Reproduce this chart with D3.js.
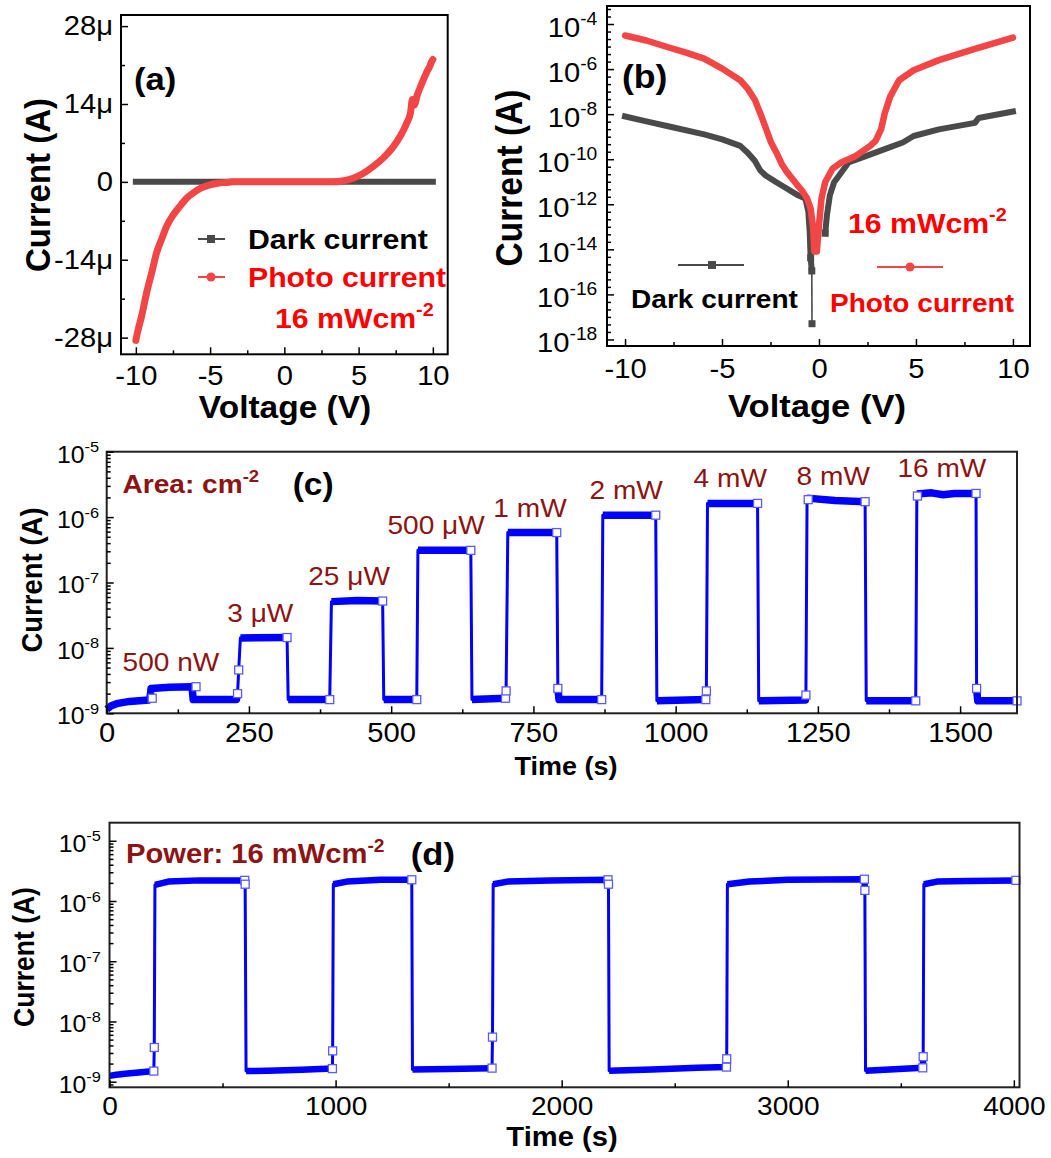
<!DOCTYPE html>
<html>
<head>
<meta charset="utf-8">
<script src="https://cdn.jsdelivr.net/npm/d3@7"></script>
<style>
  html, body { margin: 0; padding: 0; background: #fff; }
  svg { display: block; }
</style>
</head>
<body>
<svg id="fig" width="1051" height="1158"></svg>
<script>
// ---------------- (a) I–V, linear current axis (values in μA) ----------------
const voltageA = [-10, -9.9, -9.6, -9.28, -8.9, -8.61, -8.25, -7.93, -7.5, -7.04, -6.6, -6.14, -5.6, -5.02, -4.5, -3.9, -3.45, -2, 0, 2, 3.29, 3.9, 4.63, 5.3, 5.98, 6.7, 7.33, 7.8, 8.23, 8.5, 8.62, 8.75, 8.95, 9.15, 9.35, 9.6, 9.8, 9.91, 10];
const photoCurrentA = [-28.5, -27.2, -24, -20, -16, -12.8, -10.2, -8.0, -6.0, -4.4, -3.0, -2.0, -1.1, -0.54, -0.25, -0.1, 0, 0, 0, 0, 0, 0.15, 0.66, 1.5, 2.75, 4.4, 6.3, 8.2, 10.5, 12.5, 14.8, 13.8, 15.6, 17.0, 18.3, 19.8, 20.8, 21.6, 22.0];
const darkVoltageA = [-10, -5, 0, 5, 10];
const darkCurrentA = [0, 0, 0, 0, 0];
const xTicksA = [-10, -5, 0, 5, 10];
const yTicksA = [-28, -14, 0, 14, 28];
const yTickLabelsA = ["-28μ", "-14μ", "0", "14μ", "28μ"];

// ---------------- (b) I–V, log current axis (A) ----------------
const photoVoltageB = [-10, -8.9, -7.78, -6.85, -5.92, -4.99, -4.06, -3.69, -3.31, -3.03, -2.75, -2.47, -2.2, -1.92, -1.64, -1.17, -0.89, -0.61, -0.43, -0.3, -0.24,
                       -0.11, 0.0, 0.13, 0.32, 0.69, 1.15, 1.9, 2.64, 2.92, 3.2, 3.39, 3.67, 4.13, 4.88, 6.18, 8.04, 10];
const photoCurrentB = [3.1e-5, 1.86e-5, 9.3e-6, 5.4e-6, 2.9e-6, 1.05e-6, 3.2e-7, 1.4e-7, 4.4e-8, 1.1e-8, 2.5e-9, 5.5e-10, 2.0e-10, 6.2e-11, 2.6e-11, 8.1e-12, 4.2e-12, 1.8e-12, 6.5e-13, 8.5e-14, 8.1e-15,
                       8.1e-15, 1.2e-13, 1.8e-12, 9.5e-12, 3.7e-11, 7.2e-11, 1.4e-10, 3.9e-10, 6.5e-10, 2.1e-9, 1.1e-8, 6.0e-8, 3.2e-7, 8.9e-7, 2.5e-6, 7.9e-6, 2.5e-5];
const darkLeftVoltageB = [-10, -8.9, -7.78, -5.92, -4.99, -4.06, -3.69, -3.31, -3.03, -2.75, -2.2, -1.64, -1.08, -0.7, -0.55, -0.48, -0.43, -0.37];
const darkLeftCurrentB = [7.9e-9, 4.8e-9, 2.9e-9, 1.26e-9, 7.6e-10, 3.9e-10, 2.0e-10, 8.5e-11, 3.2e-11, 1.9e-11, 9.5e-12, 4.9e-12, 2.5e-12, 1.8e-12, 4.7e-13, 6.3e-14, 4.2e-15, 1.1e-15];
const darkDipB = [-0.36, 5e-18];
const darkRightVoltageB = [0.32, 0.41, 0.56, 0.78, 1.15, 1.52, 2.45, 3.39, 4.32, 4.88, 6.18, 8.04, 8.23, 10];
const darkRightCurrentB = [5.2e-14, 3.3e-13, 2.5e-12, 9.5e-12, 2.6e-11, 7.2e-11, 1.4e-10, 2.8e-10, 5.5e-10, 1.07e-9, 2.1e-9, 4.1e-9, 6.8e-9, 1.3e-8];
const xTicksB = [-10, -5, 0, 5, 10];
const yTicksB = [1e-18, 1e-16, 1e-14, 1e-12, 1e-10, 1e-8, 1e-6, 1e-4];

// ---------------- (c) photoresponse at increasing power ----------------
const timeC = [0, 8, 20, 40, 74, 76, 78, 110, 150, 152, 228, 230, 232, 235, 317, 319, 392, 395, 440, 485, 487, 545, 547, 640, 642, 701, 702, 705, 791, 793, 795, 870, 872, 965, 967, 1053, 1054, 1056, 1144, 1146, 1228, 1229, 1231, 1280, 1333, 1335, 1422, 1424, 1450, 1470, 1490, 1528, 1529, 1531, 1600];
const currentC = [1.15e-9, 1.3e-9, 1.42e-9, 1.52e-9, 1.6e-9, 1.7e-9, 2.4e-9, 2.5e-9, 2.55e-9, 1.62e-9, 1.62e-9, 2.0e-9, 4.6e-9, 1.42e-8, 1.44e-8, 1.62e-9, 1.62e-9, 5.1e-8, 5.3e-8, 5.2e-8, 1.62e-9, 1.62e-9, 3.1e-7, 3.1e-7, 1.62e-9, 1.7e-9, 2.2e-9, 5.8e-7, 5.8e-7, 2.4e-9, 1.62e-9, 1.62e-9, 1.07e-6, 1.07e-6, 1.55e-9, 1.62e-9, 2.2e-9, 1.62e-6, 1.62e-6, 1.55e-9, 1.6e-9, 1.9e-9, 1.95e-6, 1.8e-6, 1.72e-6, 1.55e-9, 1.55e-9, 2.25e-6, 2.35e-6, 2.2e-6, 2.3e-6, 2.3e-6, 2.4e-9, 1.55e-9, 1.55e-9];
const markerTimeC = [80, 157, 230, 232, 317, 392, 485, 545, 640, 701, 702, 791, 793, 870, 965, 1053, 1054, 1144, 1229, 1233, 1333, 1422, 1425, 1528, 1529, 1600];
const markerCurrentC = [1.7e-9, 2.55e-9, 2.0e-9, 4.6e-9, 1.44e-8, 1.62e-9, 5.2e-8, 1.62e-9, 3.1e-7, 1.7e-9, 2.2e-9, 5.8e-7, 2.4e-9, 1.62e-9, 1.07e-6, 1.62e-9, 2.2e-9, 1.62e-6, 1.9e-9, 1.85e-6, 1.72e-6, 1.55e-9, 2.1e-6, 2.3e-6, 2.4e-9, 1.55e-9];
const powerLabelsC = ["500 nW", "3 μW", "25 μW", "500 μW", "1 mW", "2 mW", "4 mW", "8 mW", "16 mW"];
const powerLabelTimeC = [113, 270, 426, 579, 744, 913, 1096, 1277, 1468];
const powerLabelLevelC = [2.55e-9, 1.44e-8, 5.2e-8, 3.1e-7, 5.8e-7, 1.07e-6, 1.62e-6, 1.78e-6, 2.3e-6];
const xTicksC = [0, 250, 500, 750, 1000, 1250, 1500];
const yTicksC = [1e-9, 1e-8, 1e-7, 1e-6, 1e-5];

// ---------------- (d) repeated on/off cycles at 16 mW/cm² ----------------
const timeD = [0, 30, 80, 140, 196, 198, 201, 260, 400, 598, 600, 604, 700, 850, 986, 987, 990, 1050, 1200, 1337, 1340, 1500, 1692, 1694, 1697, 1760, 1950, 2205, 2207, 2210, 2400, 2600, 2729, 2730, 2733, 2830, 3000, 3339, 3341, 3344, 3450, 3597, 3599, 3602, 3660, 3800, 4009];
const currentD = [1.25e-9, 1.3e-9, 1.37e-9, 1.43e-9, 1.5e-9, 3.7e-9, 1.85e-6, 2.1e-6, 2.2e-6, 2.2e-6, 1.9e-6, 1.5e-9, 1.52e-9, 1.58e-9, 1.65e-9, 3.25e-9, 1.9e-6, 2.1e-6, 2.25e-6, 2.25e-6, 1.6e-9, 1.62e-9, 1.68e-9, 5.5e-9, 1.9e-6, 2.1e-6, 2.2e-6, 2.25e-6, 1.9e-6, 1.52e-9, 1.6e-9, 1.7e-9, 1.75e-9, 2.4e-9, 1.9e-6, 2.1e-6, 2.25e-6, 2.3e-6, 1.5e-6, 1.52e-9, 1.6e-9, 1.7e-9, 2.6e-9, 1.9e-6, 2.1e-6, 2.15e-6, 2.2e-6];
const markerTimeD = [196, 198, 598, 600, 986, 987, 1337, 1692, 1694, 2205, 2207, 2729, 2730, 3339, 3341, 3597, 3599, 4009];
const markerCurrentD = [1.5e-9, 3.7e-9, 2.2e-6, 1.9e-6, 1.65e-9, 3.25e-9, 2.25e-6, 1.68e-9, 5.5e-9, 2.25e-6, 1.9e-6, 1.75e-9, 2.4e-9, 2.3e-6, 1.5e-6, 1.7e-9, 2.6e-9, 2.2e-6];
const xTicksD = [0, 1000, 2000, 3000, 4000];
const yTicksD = [1e-9, 1e-8, 1e-7, 1e-6, 1e-5];

// ---------------- styling ----------------
const FONT = '"Liberation Sans", Arial, Helvetica, sans-serif';
const SX = 1.08;               // slight horizontal widening of all lettering
const GRAY = "#4a4a4a";
const RED_LINE = "#f24646";
const RED_TEXT = "#ff0000";
const MAROON = "#8c1414";
const BLUE = "#0000ff";
const MARKER_BLUE = "#5a5aff";

const svg = d3.select("#fig").attr("font-family", FONT);

function txt(g, x, y, str, o = {}) {
  const size = o.size || 20;
  const t = g.append("text")
    .attr("transform", `translate(${x},${y}) scale(${SX},1)` + (o.rotate ? ` rotate(${o.rotate})` : ""))
    .attr("font-size", size)
    .attr("font-weight", o.weight || "normal")
    .attr("text-anchor", o.anchor || "start")
    .attr("fill", o.fill || "#000")
    .text(str);
  if (o.sup) {
    t.append("tspan").attr("dy", -0.42 * size).attr("font-size", size * 0.66).text(o.sup);
  }
  return t;
}

function frame(g, box, color, width) {
  g.append("rect")
    .attr("x", box.l).attr("y", box.t)
    .attr("width", box.r - box.l).attr("height", box.b - box.t)
    .attr("fill", "none").attr("stroke", color).attr("stroke-width", width);
}

// inward-pointing ticks on the bottom and left edges
function axes(g, x, y, box, o) {
  const gx = g.append("g").attr("transform", `translate(0,${box.b})`)
    .call(d3.axisBottom(x).tickValues(o.xMajor).tickSize(-7).tickPadding(o.xPad).tickFormat(o.xFmt || (d => d)));
  const gxm = g.append("g").attr("transform", `translate(0,${box.b})`)
    .call(d3.axisBottom(x).tickValues(o.xMinor).tickSize(-4).tickFormat(""));
  const gy = g.append("g").attr("transform", `translate(${box.l},0)`)
    .call(d3.axisLeft(y).tickValues(o.yMajor).tickSize(-7).tickPadding(o.yPad).tickFormat(o.yFmt || (d => d)));
  const gym = g.append("g").attr("transform", `translate(${box.l},0)`)
    .call(d3.axisLeft(y).tickValues(o.yMinor).tickSize(-4).tickFormat(""));
  [gx, gxm, gy, gym].forEach(a => {
    a.attr("font-family", FONT).attr("font-size", null);
    a.select(".domain").remove();
    a.selectAll(".tick line").attr("stroke", "#000").attr("stroke-width", 1.5);
  });
  gx.selectAll("text").attr("font-size", o.xFs).attr("fill", "#000").attr("transform", `scale(${SX},1)`);
  gy.selectAll("text").attr("font-size", o.yFs).attr("fill", "#000").attr("transform", `scale(${SX},1)`);
  if (o.yLog) {
    gy.selectAll("text").each(function (d) {
      const t = d3.select(this);
      const e = Math.round(Math.log10(d));
      t.text("10").attr("dy", "0.45em");
      t.append("tspan").attr("dy", -0.45 * o.yFs).attr("font-size", o.yFs * 0.66).text(String(e));
    });
  }
}

function logMinor(lo, hi) {
  const out = [];
  for (let e = Math.floor(Math.log10(lo)); e <= Math.ceil(Math.log10(hi)); e++) {
    for (let k = 2; k <= 9; k++) {
      const v = k * Math.pow(10, e);
      if (v > lo && v < hi) out.push(v);
    }
  }
  return out;
}

function squareMarks(g, pts, size, stroke, fill, sw) {
  g.selectAll(null).data(pts).enter().append("rect")
    .attr("x", d => d[0] - size / 2).attr("y", d => d[1] - size / 2)
    .attr("width", size).attr("height", size)
    .attr("fill", fill).attr("stroke", stroke).attr("stroke-width", sw);
}

// ===================== (a) =====================
{
  const box = { l: 121, r: 447.7, t: 15, b: 354.3 };
  const g = svg.append("g");
  const x = d3.scaleLinear().domain([-11, 11]).range([box.l, box.r]);
  const y = d3.scaleLinear().domain([-31, 30]).range([box.b, box.t]);

  const line = d3.line().x(d => x(d[0])).y(d => y(d[1]));
  g.append("path")
    .attr("d", line(darkVoltageA.map((v, i) => [v, darkCurrentA[i]])))
    .attr("fill", "none").attr("stroke", GRAY).attr("stroke-width", 6).attr("stroke-linecap", "square");
  g.append("path")
    .attr("d", line.curve(d3.curveMonotoneX)(voltageA.map((v, i) => [v, photoCurrentA[i]])))
    .attr("fill", "none").attr("stroke", RED_LINE).attr("stroke-width", 7)
    .attr("stroke-linecap", "round").attr("stroke-linejoin", "round");

  frame(g, box, "#000", 2);
  axes(g, x, y, box, {
    xMajor: xTicksA, xMinor: [-7.5, -2.5, 2.5, 7.5], xPad: 11.5, xFs: 27,
    yMajor: yTicksA, yMinor: [-21, -7, 7, 21], yPad: 7.4, yFs: 27,
    yFmt: d => yTickLabelsA[yTicksA.indexOf(d)]
  });

  txt(g, 134, 90, "(a)", { size: 32, weight: "bold" });
  txt(g, 50, 185, "Current (A)", { size: 33, weight: "bold", anchor: "middle", rotate: -90 });
  txt(g, 285, 418, "Voltage (V)", { size: 31, weight: "bold", anchor: "middle" });

  // legend
  g.append("line").attr("x1", 198).attr("x2", 225).attr("y1", 239).attr("y2", 239).attr("stroke", GRAY).attr("stroke-width", 2);
  g.append("rect").attr("x", 207).attr("y", 235).attr("width", 8).attr("height", 8).attr("fill", GRAY);
  g.append("line").attr("x1", 198).attr("x2", 225).attr("y1", 277).attr("y2", 277).attr("stroke", RED_LINE).attr("stroke-width", 2);
  g.append("circle").attr("cx", 211).attr("cy", 277).attr("r", 4.5).attr("fill", RED_LINE);
  txt(g, 248, 249, "Dark current", { size: 28, weight: "bold" });
  txt(g, 248, 287, "Photo current", { size: 28, weight: "bold", fill: RED_TEXT });
  txt(g, 275, 328, "16 mWcm", { size: 28, weight: "bold", fill: RED_TEXT, sup: "-2" });
}

// ===================== (b) =====================
{
  const box = { l: 607, r: 1030, t: 6, b: 346 };
  const g = svg.append("g");
  const x = d3.scaleLinear().domain([-10.93, 10.88]).range([box.l, box.r]);
  const y = d3.scaleLog().domain([Math.pow(10, -18.29), Math.pow(10, -3.2)]).range([box.b, box.t]);
  const line = d3.line().x(d => x(d[0])).y(d => y(d[1]));

  const darkLeft = darkLeftVoltageB.map((v, i) => [v, darkLeftCurrentB[i]]);
  const darkRight = darkRightVoltageB.map((v, i) => [v, darkRightCurrentB[i]]);
  const lastLeft = darkLeft[darkLeft.length - 1];

  // thin drop to the lowest dark-current reading
  g.append("line")
    .attr("x1", x(lastLeft[0])).attr("y1", y(lastLeft[1]))
    .attr("x2", x(darkDipB[0])).attr("y2", y(darkDipB[1]))
    .attr("stroke", GRAY).attr("stroke-width", 1.6);
  [darkLeft, darkRight].forEach(seg => {
    g.append("path").attr("d", line(seg))
      .attr("fill", "none").attr("stroke", GRAY).attr("stroke-width", 6)
      .attr("stroke-linejoin", "round").attr("stroke-linecap", "square");
  });
  squareMarks(g, [darkDipB, lastLeft, darkLeft[darkLeft.length - 2], darkRight[0]].map(d => [x(d[0]), y(d[1])]), 7, "none", GRAY, 0);

  g.append("path")
    .attr("d", line(photoVoltageB.map((v, i) => [v, photoCurrentB[i]])))
    .attr("fill", "none").attr("stroke", RED_LINE).attr("stroke-width", 6.5)
    .attr("stroke-linejoin", "round").attr("stroke-linecap", "round");

  frame(g, box, "#000", 2);
  const minorB = d3.range(-54, -9).map(k => Math.pow(10, k / 3)).filter(v => {
    const e = Math.log10(v);
    return Math.abs(e - 2 * Math.round(e / 2)) > 0.01 && v > y.domain()[0] && v < y.domain()[1];
  });
  axes(g, x, y, box, {
    xMajor: xTicksB, xMinor: [-7.5, -2.5, 2.5, 7.5], xPad: 13, xFs: 27,
    yMajor: yTicksB, yMinor: minorB, yPad: 9, yFs: 27, yLog: true
  });

  txt(g, 622, 88, "(b)", { size: 33, weight: "bold" });
  txt(g, 522, 178, "Current (A)", { size: 33.5, weight: "bold", anchor: "middle", rotate: -90 });
  txt(g, 817, 417, "Voltage (V)", { size: 32, weight: "bold", anchor: "middle" });

  // legend
  g.append("line").attr("x1", 678).attr("x2", 744).attr("y1", 265).attr("y2", 265).attr("stroke", GRAY).attr("stroke-width", 2);
  g.append("rect").attr("x", 708).attr("y", 261).attr("width", 8).attr("height", 8).attr("fill", GRAY);
  g.append("line").attr("x1", 877).attr("x2", 943).attr("y1", 267).attr("y2", 267).attr("stroke", RED_LINE).attr("stroke-width", 2);
  g.append("circle").attr("cx", 910).attr("cy", 267).attr("r", 4.5).attr("fill", RED_LINE);
  txt(g, 631, 308, "Dark current", { size: 26, weight: "bold" });
  txt(g, 830, 312, "Photo current", { size: 26, weight: "bold", fill: RED_TEXT });
  txt(g, 848, 233, "16 mWcm", { size: 28, weight: "bold", fill: RED_TEXT, sup: "-2" });
}

// ============ transient traces (c), (d) ============
function transient(g, x, y, T, I, thick) {
  const pts = T.map((t, i) => [x(t), y(I[i])]);
  g.append("path").attr("d", d3.line()(pts))
    .attr("fill", "none").attr("stroke", BLUE).attr("stroke-width", 3).attr("stroke-linejoin", "round");
  // dense readings on the plateaus render as a solid band
  const runs = [];
  let cur = null;
  for (let i = 0; i < T.length - 1; i++) {
    const flat = Math.abs(Math.log10(I[i + 1] / I[i])) < 0.2;
    if (flat) {
      if (!cur) { cur = [pts[i]]; runs.push(cur); }
      cur.push(pts[i + 1]);
    } else cur = null;
  }
  runs.forEach(r => {
    g.append("path").attr("d", d3.line()(r))
      .attr("fill", "none").attr("stroke", BLUE).attr("stroke-width", thick)
      .attr("stroke-linejoin", "round").attr("stroke-linecap", "butt");
  });
}

// ===================== (c) =====================
{
  const box = { l: 106.7, r: 1017, t: 451.7, b: 713.3 };
  const g = svg.append("g");
  const x = d3.scaleLinear().domain([0, 1600]).range([box.l, box.r]);
  const y = d3.scaleLog().domain([1e-9, 1e-5]).range([box.b, box.t]);

  transient(g, x, y, timeC, currentC, 7.5);
  squareMarks(g, markerTimeC.map((t, i) => [x(t), y(markerCurrentC[i])]), 8, MARKER_BLUE, "#fff", 1.3);

  frame(g, box, "#222", 2);
  axes(g, x, y, box, {
    xMajor: xTicksC, xMinor: d3.range(125, 1600, 250), xPad: 9.5, xFs: 27,
    yMajor: yTicksC, yMinor: logMinor(1e-9, 1e-5), yPad: 7, yFs: 23, yLog: true
  });

  powerLabelsC.forEach((s, i) => {
    txt(g, x(powerLabelTimeC[i]), y(powerLabelLevelC[i]) - 16, s, { size: 26, anchor: "middle", fill: MAROON });
  });
  txt(g, 122.5, 493.3, "Area: cm", { size: 26, weight: "bold", fill: MAROON, sup: "-2" });
  txt(g, 292.7, 495, "(c)", { size: 31, weight: "bold" });
  txt(g, 42, 580, "Current (A)", { size: 27.5, weight: "bold", anchor: "middle", rotate: -90 });
  txt(g, 566, 775, "Time (s)", { size: 25, weight: "bold", anchor: "middle" });
}

// ===================== (d) =====================
{
  const box = { l: 109.5, r: 1019.5, t: 822.7, b: 1087.3 };
  const g = svg.append("g");
  const x = d3.scaleLinear().domain([0, 4025]).range([box.l, box.r]);
  const y = d3.scaleLog().domain([Math.pow(10, -9.093), Math.pow(10, -4.70)]).range([box.b, box.t]);

  transient(g, x, y, timeD, currentD, 6.5);
  squareMarks(g, markerTimeD.map((t, i) => [x(t), y(markerCurrentD[i])]), 8, MARKER_BLUE, "#fff", 1.3);

  frame(g, box, "#222", 2);
  axes(g, x, y, box, {
    xMajor: xTicksD, xMinor: [500, 1500, 2500, 3500], xPad: 9.5, xFs: 26,
    yMajor: yTicksD, yMinor: logMinor(y.domain()[0], y.domain()[1]), yPad: 8, yFs: 23, yLog: true
  });

  txt(g, 126, 863.3, "Power: 16 mWcm", { size: 27, weight: "bold", fill: MAROON, sup: "-2" });
  txt(g, 410.8, 865, "(d)", { size: 32, weight: "bold" });
  txt(g, 34, 957, "Current (A)", { size: 26.5, weight: "bold", anchor: "middle", rotate: -90 });
  txt(g, 562, 1146, "Time (s)", { size: 27, weight: "bold", anchor: "middle" });
}
</script>
</body>
</html>
